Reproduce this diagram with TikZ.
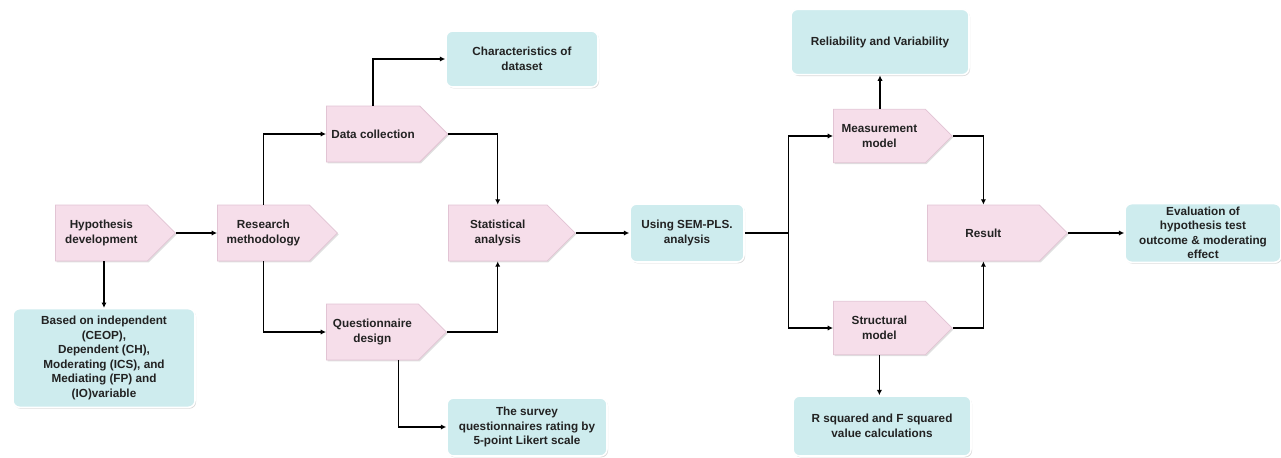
\documentclass[tikz,border=0pt]{standalone}
\usepackage{fontspec}
\setmainfont{Liberation Sans}
\usetikzlibrary{shapes.symbols,arrows.meta,shadows}

\definecolor{stagepink}{RGB}{246,222,234}
\definecolor{stageedge}{RGB}{226,196,212}
\definecolor{boxteal}{RGB}{206,236,238}
\definecolor{textgray}{RGB}{34,34,34}

\tikzset{
  stage/.style={signal, signal to=east, signal from=nowhere, signal pointer angle=90,
    anchor=west, fill=stagepink, draw=stageedge, line width=0.6pt, inner sep=2pt,
    text=textgray, font=\fontsize{8.8}{10.9}\selectfont\bfseries, align=center,
    drop shadow={shadow xshift=1pt, shadow yshift=-1pt, opacity=0.25}},
  outbox/.style={rectangle, rounded corners=5pt, fill=boxteal, draw=white, line width=1.2pt,
    text=textgray, font=\fontsize{8.8}{10.9}\selectfont\bfseries, align=center, inner sep=1pt,
    drop shadow={shadow xshift=0.8pt, shadow yshift=-1pt, opacity=0.3}},
  link/.style={line width=0.9pt, -{Latex[length=4pt,width=4pt]}}
}

\begin{document}
\begin{tikzpicture}[x=0.75pt,y=-0.75pt]
\useasboundingbox (0,0) rectangle (1281,457);

% process stages
\node[stage, minimum width=90pt, minimum height=42pt] (hyp) at (55,233) {Hypothesis\\development};
\node[stage, minimum width=90pt, minimum height=42pt] (resm) at (217,233) {Research\\methodology};
\node[stage, minimum width=91pt, minimum height=42pt] (datc) at (326,134) {Data collection};
\node[stage, minimum width=95pt, minimum height=42pt] (stat) at (448,233) {Statistical\\analysis};
\node[stage, minimum width=90pt, minimum height=42pt] (qdes) at (326,332) {Questionnaire\\design};
\node[stage, minimum width=89pt, minimum height=40pt] (meas) at (833,136) {Measurement\\model};
\node[stage, minimum width=105pt, minimum height=42pt] (res) at (927,233) {Result};
\node[stage, minimum width=89pt, minimum height=40pt] (struc) at (833,328) {Structural\\model};

% outcome boxes
\node[outbox, minimum width=136.5pt, minimum height=74pt] (basis) at (104,358)
  {Based on independent\\(CEOP),\\Dependent (CH),\\Moderating (ICS), and\\Mediating (FP) and\\(IO)variable};
\node[outbox, minimum width=114pt, minimum height=42pt] (chars) at (522,59) {Characteristics of\\dataset};
\node[outbox, minimum width=120pt, minimum height=43.5pt] (survey) at (527,427)
  {The survey\\questionnaires rating by\\5-point Likert scale};
\node[outbox, minimum width=85.5pt, minimum height=43.5pt] (sem) at (687,233) {Using SEM-PLS.\\analysis};
\node[outbox, minimum width=133.5pt, minimum height=49pt] (relia) at (880,42) {Reliability and Variability};
\node[outbox, minimum width=133.5pt, minimum height=45pt] (rsq) at (882,426) {R squared and F squared\\value calculations};
\node[outbox, minimum width=117pt, minimum height=44pt] (evalb) at (1203,233)
  {Evaluation of\\hypothesis test\\outcome \& moderating\\effect};

% connectors
\draw[link] (hyp.east) -- (resm.west);
\draw[link] (basis.north |- hyp.south) -- (basis.north);
\draw[link] (resm.north) |- (datc.west);
\draw[link] (resm.south) |- (qdes.west);
\draw[link] (datc.north) |- (chars.west);
\draw[link] (datc.east) -| (stat.north);
\draw[link] (qdes.east) -| (stat.south);
\draw[link] ([xshift=19.5pt]qdes.south) |- (survey.west);
\draw[link] (stat.east) -- (sem.west);
\draw[line width=0.9pt] (sem.east) -- ++(44,0) coordinate (split);
\draw[link] (split) |- (meas.west);
\draw[link] (split) |- (struc.west);
\draw[link] (relia.south |- meas.north) -- (relia.south);
\draw[link] (meas.east) -| (res.north);
\draw[link] (struc.east) -| (res.south);
\draw[link] (struc.south) -- (struc.south |- rsq.north);
\draw[link] (res.east) -- (evalb.west);
\end{tikzpicture}
\end{document}
